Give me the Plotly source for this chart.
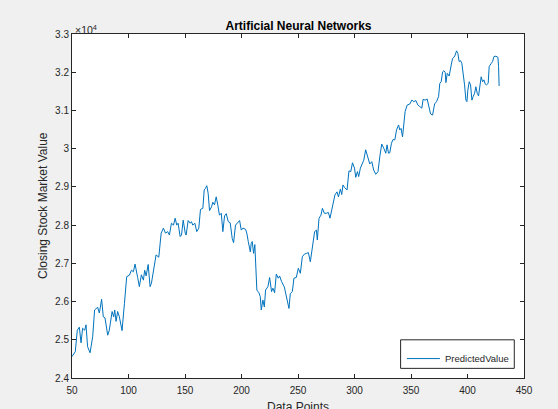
import plotly.graph_objects as go

# Predicted closing values from the neural network model
data_points = [
    50.0, 52.9, 54.7, 56.5, 58.0, 59.4, 61.2, 62.4, 63.8, 66.0, 68.3, 70.0, 72.7, 74.2, 76.2, 77.7,
    79.2, 81.6, 83.0, 85.5, 86.9, 87.8, 89.0, 90.4, 91.9, 94.3, 96.4, 98.4, 100.8, 102.6, 104.3,
    105.8, 108.1, 109.6, 111.4, 113.2, 114.3, 115.6, 117.4, 119.1, 120.3, 122.9, 124.4, 126.8,
    128.9, 130.9, 132.7, 134.7, 136.2, 138.0, 139.8, 141.3, 142.7, 143.9, 145.7, 146.9, 148.4,
    150.2, 151.0, 152.8, 154.6, 155.7, 156.9, 158.7, 160.4, 162.2, 163.7, 165.8, 167.0, 168.1,
    169.3, 170.5, 171.7, 173.5, 174.6, 176.1, 177.6, 179.0, 180.5, 182.1, 183.5, 185.0, 186.5,
    188.3, 190.0, 191.8, 193.0, 194.7, 196.8, 198.3, 199.8, 201.2, 203.6, 204.7, 206.0, 207.8,
    208.6, 209.5, 210.7, 211.8, 213.6, 215.4, 216.6, 217.5, 218.9, 220.2, 221.3, 223.4, 224.9,
    226.6, 227.8, 229.3, 230.8, 232.6, 233.7, 235.5, 237.9, 239.0, 240.6, 242.0, 243.2, 245.0,
    246.4, 248.5, 250.3, 252.1, 253.8, 255.6, 257.4, 259.2, 260.9, 262.7, 264.7, 266.3, 267.1,
    268.6, 270.3, 271.6, 273.3, 275.1, 276.9, 278.3, 279.8, 281.0, 282.7, 284.5, 285.8, 287.5,
    288.7, 289.8, 291.3, 293.4, 295.1, 296.7, 298.2, 300.0, 301.1, 302.6, 303.7, 305.2, 307.0,
    308.2, 309.9, 311.7, 313.5, 315.3, 317.0, 318.8, 320.8, 322.4, 324.1, 325.9, 327.7, 328.8,
    330.1, 331.2, 332.7, 334.1, 335.7, 337.2, 339.0, 340.1, 341.2, 342.5, 343.9, 344.8, 346.6,
    349.0, 350.7, 352.5, 354.3, 356.1, 357.8, 359.6, 360.7, 362.5, 364.3, 365.8, 367.3, 369.1,
    370.9, 372.6, 374.4, 375.5, 376.7, 378.0, 379.1, 380.3, 380.9, 382.1, 383.8, 385.6, 386.8,
    388.0, 389.1, 390.3, 391.5, 392.6, 393.9, 395.0, 396.2, 397.4, 398.6, 399.5, 400.3, 401.5,
    402.7, 403.9, 405.0, 406.3, 407.4, 408.6, 409.8, 411.0, 412.1, 413.4, 414.5, 415.7, 416.9,
    418.3, 419.2, 421.0, 422.2, 423.4, 425.2, 426.9, 427.5, 428.0,
]
predicted_value = [
    24560, 24690, 25250, 25330, 24920, 25300, 25250, 25390, 24820, 24660, 25080, 25780, 25850,
    25700, 26060, 25600, 25570, 25120, 25250, 25740, 25600, 25780, 25480, 25740, 25600, 25240,
    25950, 26650, 26690, 26820, 26780, 26980, 26630, 26390, 26700, 26560, 26820, 26670, 26970,
    26390, 26480, 27000, 27220, 27160,
    27790, 27920, 27790, 27830, 27740, 28050, 28000, 28180, 28000, 28050, 27700, 27740, 28130,
    27790, 27740, 28120, 28050, 28090, 28000, 28050, 27830, 27920, 28410, 28440, 28920, 28960,
    29030, 28830, 28380, 28480, 28600, 28530, 28740, 28530, 28260, 28310, 27830, 28240, 28300,
    28090, 28060, 27650, 27540, 28000, 28090, 28120, 27870, 27920, 27890, 27790, 27570, 27300,
    27520, 27570, 27260, 27490, 26300, 26230, 26130, 25780, 26040, 25860, 26300, 26390, 26630,
    26260, 26350, 26230, 26720, 26610, 26670, 26520, 26380, 26220, 25990, 25820, 26210, 26260,
    26610, 26630, 26870, 26740, 27170, 27240, 27260, 27280, 27040, 27440, 27830, 27870, 27610,
    28180, 28260, 28440, 28310, 28310, 28330, 28180, 28400, 28610, 28790, 28870, 28740, 28940,
    28800, 29050, 28980, 28920, 29420, 29400, 29630, 29490, 29250, 29400, 29270, 29490, 29620,
    29700, 29970, 29750, 29600, 29660, 29440, 29330, 29400, 29790, 30120, 30010, 29880, 30100,
    29880, 29890, 30140, 30240, 30230, 30490, 30620, 30490, 30530, 30310, 30710, 30970, 31140,
    31170, 31270, 31230, 31260, 31140, 31100, 31060, 31290, 31270, 31300, 31100, 30910, 30880,
    31170, 31230, 31360, 31710, 31750, 32010, 32040, 31990, 31730, 31970, 31900, 32190, 32360,
    32390, 32450, 32560, 32490, 32280, 32300, 32230, 32010, 31670, 31270, 31230, 31530, 31750,
    31670, 31270, 31360, 31450, 31620, 31450, 31380, 31710, 31880, 31750, 31800, 31690, 31670,
    31710, 32150, 32230, 32280, 32410, 32420, 32390, 32150, 31640,
]

x_ticks = [50, 100, 150, 200, 250, 300, 350, 400, 450]
y_ticks = [24000, 25000, 26000, 27000, 28000, 29000, 30000, 31000, 32000, 33000]
y_tick_labels = ["2.4", "2.5", "2.6", "2.7", "2.8", "2.9", "3", "3.1", "3.2", "3.3"]

series_name = "PredictedValue"
line_color = "#0072BD"
axis_color = "#262626"
font_family = "Liberation Sans, Arial, Helvetica, sans-serif"

fig = go.Figure()
fig.add_trace(go.Scatter(
    x=data_points, y=predicted_value, mode="lines", name=series_name,
    line=dict(color=line_color, width=1), showlegend=False,
))

fig.update_layout(
    width=558, height=409,
    margin=dict(l=72, r=34, t=34, b=31, autoexpand=False),
    paper_bgcolor="#f0f0f0",
    plot_bgcolor="white",
    font=dict(family=font_family, size=10, color=axis_color),
    title=dict(
        text="<b>Artificial Neural Networks</b>",
        x=0.535, xanchor="center", y=0.937, yanchor="middle",
        font=dict(size=12, color="#000000"),
    ),
    xaxis=dict(
        range=[50, 450], tickvals=x_ticks, automargin=False,
        showgrid=False, zeroline=False,
        showline=True, linecolor=axis_color, linewidth=1, mirror="ticks",
        ticks="inside", ticklen=4, tickcolor=axis_color, ticklabelstandoff=3,
    ),
    yaxis=dict(
        range=[24000, 33000], tickvals=y_ticks, ticktext=y_tick_labels, automargin=False,
        showgrid=False, zeroline=False,
        showline=True, linecolor=axis_color, linewidth=1, mirror="ticks",
        ticks="inside", ticklen=4, tickcolor=axis_color,
    ),
)

# Axis labels
fig.add_annotation(
    x=0.5, y=0, xref="paper", yref="paper", xanchor="center", yanchor="middle",
    text="Data Points", showarrow=False, yshift=-29,
    font=dict(size=12, color=axis_color),
)
fig.add_annotation(
    x=0, y=0.5, xref="paper", yref="paper", xanchor="center", yanchor="middle",
    text="Closing Stock Market Value", showarrow=False, textangle=-90, xshift=-29,
    font=dict(size=12, color=axis_color),
)

# Exponent marker for the y-axis scale
fig.add_annotation(
    x=0, y=1, xref="paper", yref="paper", xanchor="left", yanchor="bottom",
    text="×10<sup>4</sup>", showarrow=False,
    font=dict(size=10.5, color=axis_color), xshift=1, yshift=-4,
)

# Legend box in the lower-right corner of the axes
fig.add_shape(
    type="rect", xref="paper", yref="paper",
    x0=0.727, x1=0.9785, y0=0.028, y1=0.111,
    fillcolor="white", line=dict(color=axis_color, width=1), layer="above",
)
fig.add_shape(
    type="line", xref="paper", yref="paper",
    x0=0.741, x1=0.814, y0=0.0565, y1=0.0565,
    line=dict(color=line_color, width=1), layer="above",
)
fig.add_annotation(
    x=0.821, y=0.0565, xref="paper", yref="paper", xanchor="left", yanchor="middle",
    text=series_name, showarrow=False,
    font=dict(size=9.5, color=axis_color),
)

fig.write_html("out.html")
